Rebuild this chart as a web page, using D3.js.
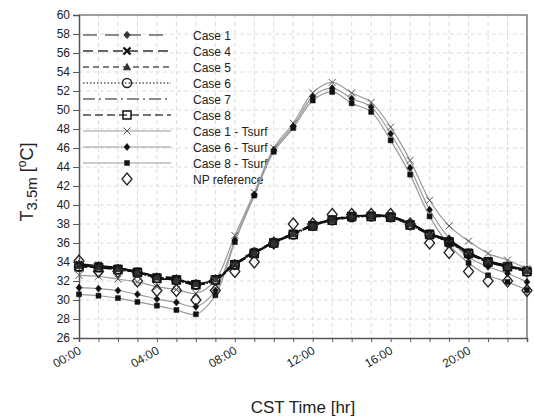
<!DOCTYPE html>
<html>
<head>
<meta charset="utf-8">
<script src="https://cdn.jsdelivr.net/npm/d3@7"></script>
<style>
body { margin: 0; background: #fff; }
text { font-family: Arial, "Liberation Sans", sans-serif; fill: #222; }
</style>
</head>
<body>
<div id="chart-area"></div>
<script>
// ---- data ----
var hours = [0, 1, 2, 3, 4, 5, 6, 7, 8, 9, 10, 11, 12, 13, 14, 15, 16, 17, 18, 19, 20, 21, 22, 23];
var labelHours = [0, 4, 8, 12, 16, 20];
var hourLabels = ["00:00", "04:00", "08:00", "12:00", "16:00", "20:00"];
var yTicks = [26, 28, 30, 32, 34, 36, 38, 40, 42, 44, 46, 48, 50, 52, 54, 56, 58, 60];

var case1 = [33.8, 33.6, 33.4, 33.0, 32.5, 32.3, 31.8, 32.3, 33.9, 35.1, 36.1, 37.0, 37.9, 38.5, 38.8, 38.9, 38.8, 38.1, 37.0, 36.3, 35.0, 34.1, 33.6, 33.2];
var case4 = [33.7, 33.6, 33.3, 33.0, 32.4, 32.2, 31.7, 32.2, 33.8, 35.0, 36.1, 37.0, 37.9, 38.5, 38.8, 38.9, 38.8, 38.0, 37.0, 36.2, 35.0, 34.1, 33.6, 33.1];
var case5 = [33.6, 33.5, 33.3, 32.9, 32.4, 32.1, 31.7, 32.2, 33.8, 35.0, 36.0, 37.0, 37.8, 38.4, 38.7, 38.9, 38.7, 38.0, 36.9, 36.2, 34.9, 34.0, 33.5, 33.1];
var case6 = [33.5, 33.5, 33.2, 32.9, 32.3, 32.1, 31.6, 32.1, 33.7, 35.0, 36.0, 36.9, 37.8, 38.4, 38.7, 38.8, 38.7, 37.9, 36.9, 36.1, 34.9, 34.0, 33.5, 33.0];
var case7 = [33.6, 33.5, 33.3, 33.0, 32.4, 32.2, 31.7, 32.2, 33.8, 35.0, 36.1, 37.0, 37.9, 38.5, 38.8, 38.9, 38.8, 38.0, 37.0, 36.2, 35.0, 34.1, 33.6, 33.1];
var case8 = [33.5, 33.4, 33.2, 32.9, 32.3, 32.1, 31.6, 32.1, 33.7, 34.9, 36.0, 36.9, 37.8, 38.4, 38.8, 38.8, 38.7, 37.9, 36.9, 36.1, 34.9, 34.0, 33.5, 33.0];
var case1Tsurf = [32.6, 32.5, 32.2, 31.9, 31.4, 31.1, 30.7, 32.1, 36.8, 41.3, 46.0, 48.6, 51.8, 52.9, 51.8, 50.8, 48.2, 44.7, 40.5, 37.8, 36.2, 34.9, 34.2, 33.3];
var case6Tsurf = [31.3, 31.2, 31.0, 30.6, 30.1, 29.75, 29.3, 31.0, 36.3, 41.1, 45.8, 48.3, 51.4, 52.3, 51.2, 50.3, 47.5, 43.9, 39.5, 36.5, 34.5, 33.5, 32.8, 31.9];
var case8Tsurf = [30.6, 30.45, 30.2, 29.8, 29.4, 28.95, 28.5, 30.5, 36.1, 41.0, 45.6, 48.1, 51.0, 51.9, 50.7, 49.8, 46.8, 43.2, 38.8, 35.8, 33.9, 32.6, 31.9, 31.05];
var npReference = [34.1, 33.0, 33.0, 32.0, 31.0, 31.0, 30.0, 31.0, 33.0, 34.0, 36.0, 38.0, 38.0, 39.0, 39.0, 39.0, 39.0, 38.0, 36.0, 35.0, 33.0, 32.0, 32.0, 31.0];

var series = [
    { name: "Case 1", values: case1, color: "#666", width: 1.4, dash: "14,8", marker: { type: "diamond", s: 3, fill: "#333", stroke: "#333", sw: 1 } },
    { name: "Case 4", values: case4, color: "#333", width: 1.4, dash: "10,5", marker: { type: "x", s: 3.5, fill: "none", stroke: "#111", sw: 2.4 } },
    { name: "Case 5", values: case5, color: "#555", width: 1.4, dash: "6,4", marker: { type: "triangle", s: 3.5, fill: "#333", stroke: "#333", sw: 1 } },
    { name: "Case 6", values: case6, color: "#555", width: 1.4, dash: "1.5,2", marker: { type: "circle", s: 4.5, fill: "none", stroke: "#222", sw: 1.5 } },
    { name: "Case 7", values: case7, color: "#666", width: 1.4, dash: "12,4,2,4", marker: null },
    { name: "Case 8", values: case8, color: "#444", width: 1.4, dash: "8,4", marker: { type: "square", s: 4, fill: "none", stroke: "#111", sw: 1.5 } },
    { name: "Case 1 - Tsurf", values: case1Tsurf, color: "#999", width: 1.2, dash: null, marker: { type: "x", s: 3.5, fill: "none", stroke: "#555", sw: 1 } },
    { name: "Case 6 - Tsurf", values: case6Tsurf, color: "#999", width: 1.2, dash: null, marker: { type: "diamond", s: 3, fill: "#111", stroke: "#111", sw: 0.5 } },
    { name: "Case 8 - Tsurf", values: case8Tsurf, color: "#999", width: 1.2, dash: null, marker: { type: "square", s: 2.5, fill: "#111", stroke: "#111", sw: 0.5 } },
    { name: "NP reference", values: npReference, color: null, width: 0, dash: null, marker: { type: "tallDiamond", s: 5, fill: "none", stroke: "#222", sw: 1.3 } }
];

// ---- layout ----
var W = 534, H = 416;
var margin = { top: 15, right: 7, bottom: 78, left: 79 };
var width = W - margin.left - margin.right;
var height = H - margin.top - margin.bottom;

var svg = d3.select("#chart-area")
    .append("svg")
        .attr("width", W)
        .attr("height", H);

var g = svg.append("g")
    .attr("transform", "translate(" + margin.left + ", " + margin.top + ")");

var x = d3.scaleLinear().domain([0, 23]).range([0, width]);
var y = d3.scaleLinear().domain([26, 60]).range([height, 0]);

// grid
g.append("g").selectAll("line.vg")
    .data(hours.slice(1))
    .enter().append("line")
        .attr("x1", function(d) { return x(d); })
        .attr("x2", function(d) { return x(d); })
        .attr("y1", 0).attr("y2", height)
        .attr("stroke", "#dcdcdc").attr("stroke-dasharray", "4,3");

g.append("g").selectAll("line.hg")
    .data(yTicks.slice(1, -1))
    .enter().append("line")
        .attr("x1", 0).attr("x2", width)
        .attr("y1", function(d) { return y(d); })
        .attr("y2", function(d) { return y(d); })
        .attr("stroke", "#dcdcdc").attr("stroke-dasharray", "4,3");

// frame top/right
g.append("path")
    .attr("d", "M0,0H" + width + "V" + height)
    .attr("fill", "none").attr("stroke", "#808080").attr("stroke-width", 1.5);

// axes
var yAxisCall = d3.axisLeft(y).tickValues(yTicks).tickSize(6).tickPadding(3);
var yAx = g.append("g").attr("class", "y-axis").call(yAxisCall);
yAx.select(".domain").attr("stroke", "#555").attr("stroke-width", 1.5);
yAx.selectAll(".tick line").attr("stroke", "#555");
yAx.selectAll("text").attr("font-size", "12px").attr("fill", "#222");

var xAxisCall = d3.axisBottom(x).tickValues(hours).tickSize(4).tickFormat("");
var xAx = g.append("g").attr("class", "x-axis")
    .attr("transform", "translate(0, " + height + ")")
    .call(xAxisCall);
xAx.select(".domain").attr("stroke", "#555").attr("stroke-width", 1.5);
xAx.selectAll(".tick line").attr("stroke", "#555");

xAx.selectAll("text.lbl")
    .data(labelHours)
    .enter().append("text")
        .attr("class", "lbl")
        .attr("font-size", "12px")
        .attr("text-anchor", "end")
        .attr("transform", function(d) { return "translate(" + (x(d) + 3) + ", 15) rotate(-30)"; })
        .text(function(d, i) { return hourLabels[i]; });

// axis titles
g.append("text")
    .attr("x", width / 2)
    .attr("y", height + 75)
    .attr("text-anchor", "middle")
    .attr("font-size", "17px")
    .text("CST Time [hr]");

var yl = svg.append("text")
    .attr("transform", "translate(33, 182) rotate(-90)")
    .attr("text-anchor", "middle")
    .attr("font-size", "18px");
yl.append("tspan").text("T");
yl.append("tspan").attr("font-size", "15px").attr("dy", 4).text("3.5m");
yl.append("tspan").attr("dy", -4).text(" [");
yl.append("tspan").attr("font-size", "12px").attr("dy", -7).text("o");
yl.append("tspan").attr("dy", 7).text("C]");

// markers
function markerPath(m) {
    var s = m.s;
    switch (m.type) {
        case "x": return "M" + (-s) + "," + (-s) + "L" + s + "," + s + "M" + (-s) + "," + s + "L" + s + "," + (-s);
        case "diamond": return "M0," + (-s * 1.2) + "L" + s + ",0L0," + (s * 1.2) + "L" + (-s) + ",0Z";
        case "tallDiamond": return "M0," + (-s * 1.2) + "L" + s + ",0L0," + (s * 1.2) + "L" + (-s) + ",0Z";
        case "square": return "M" + (-s) + "," + (-s) + "H" + s + "V" + s + "H" + (-s) + "Z";
        case "triangle": return "M0," + (-s) + "L" + s + "," + (s * 0.8) + "H" + (-s) + "Z";
        case "circle": return "M" + s + ",0A" + s + "," + s + " 0 1,1 " + (-s) + ",0A" + s + "," + s + " 0 1,1 " + s + ",0";
    }
    return "";
}

function drawMarker(sel, m) {
    sel.attr("d", markerPath(m))
        .attr("fill", m.fill)
        .attr("stroke", m.stroke)
        .attr("stroke-width", m.sw);
}

// legend (under the data, as in the original)
var legend = g.append("g").attr("class", "legend");
series.forEach(function(s, i) {
    var ly = 20 + i * 16;
    var row = legend.append("g").attr("transform", "translate(0, " + ly + ")");
    if (s.color) {
        row.append("line")
            .attr("x1", 4).attr("x2", 92)
            .attr("stroke", s.color)
            .attr("stroke-width", s.width)
            .attr("stroke-dasharray", s.dash);
    }
    if (s.marker) {
        row.append("path").attr("transform", "translate(48, 0)").call(drawMarker, s.marker);
    }
    row.append("text")
        .attr("x", 114).attr("y", 4.5)
        .attr("font-size", "12px")
        .text(s.name);
});

// lines
var line = d3.line()
    .x(function(d, i) { return x(hours[i]); })
    .y(function(d) { return y(d); })
    .curve(d3.curveCatmullRom.alpha(0.5));

var order = [6, 7, 8, 0, 1, 2, 3, 4, 5];
order.forEach(function(k) {
    var s = series[k];
    g.append("path")
        .datum(s.values)
        .attr("fill", "none")
        .attr("stroke", k >= 6 ? s.color : "#111")
        .attr("stroke-width", k >= 6 ? s.width : 1.7)
        .attr("stroke-dasharray", s.dash)
        .attr("d", line);
});

// points
series.forEach(function(s) {
    if (!s.marker) return;
    g.append("g").selectAll("path")
        .data(s.values)
        .enter().append("path")
            .attr("transform", function(d, i) { return "translate(" + x(hours[i]) + ", " + y(d) + ")"; })
            .call(drawMarker, s.marker);
});
</script>
</body>
</html>
